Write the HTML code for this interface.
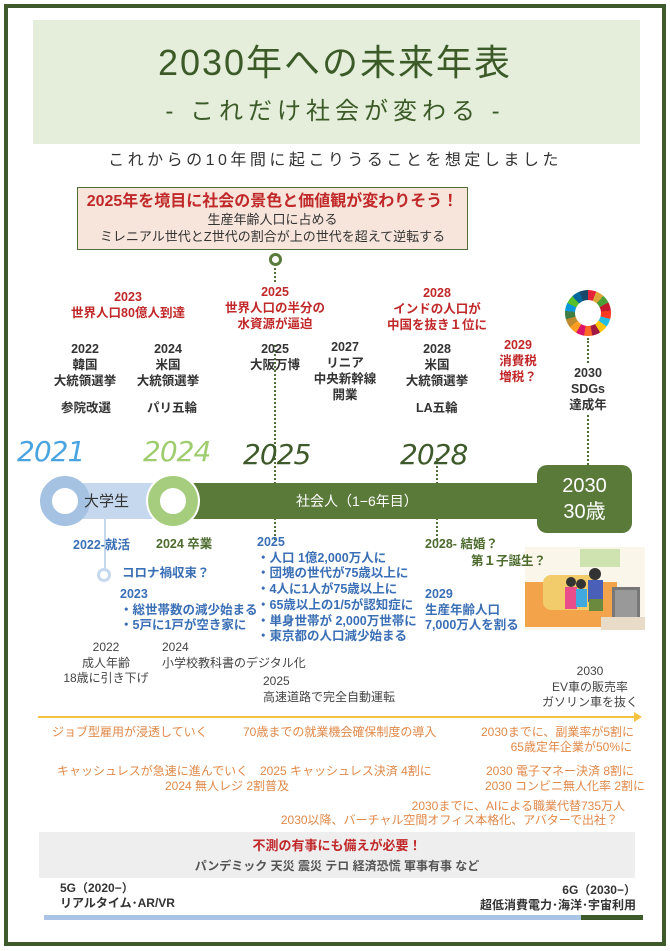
<!DOCTYPE html>
<html><head><meta charset="utf-8"><style>
*{margin:0;padding:0;box-sizing:border-box}
body{width:670px;height:951px;background:#fff;position:relative;overflow:hidden;font-family:"Liberation Sans","Noto Sans CJK JP",sans-serif}
.a{position:absolute;white-space:nowrap;line-height:1;z-index:2}
.c{position:absolute;white-space:nowrap;text-align:center;width:200px;line-height:16px}
.r{color:#c0282a;font-weight:bold;font-size:12.5px}
.k{color:#333;font-weight:bold;font-size:12.5px}
.b{color:#3a6fb5;font-weight:bold;font-size:12.5px;line-height:15.7px}
.g{color:#444;font-size:12px;line-height:15.5px}
.o{color:#e0894a;font-size:12px}
.y{font-style:italic;font-size:28px;font-family:"DejaVu Sans","Liberation Sans",sans-serif;letter-spacing:-1px}
.dot{position:absolute;border-left:2.5px dotted #4f6d35;width:0}
</style></head><body>
<div style="position:absolute;left:4px;top:4px;width:662px;height:942px;border:4px solid #3f5a2a"></div>
<div style="position:absolute;left:33px;top:20px;width:607px;height:124px;background:#e4eedb"></div>
<div class="a" style="left:0;width:670px;text-align:center;top:45px;font-size:36px;color:#3c5a28;letter-spacing:2px">2030年への未来年表</div>
<div class="a" style="left:0;width:670px;text-align:center;top:100px;font-size:24px;color:#3c5a28;letter-spacing:5px">- これだけ社会が変わる -</div>
<div class="a" style="left:0;width:670px;text-align:center;top:153px;font-size:16px;color:#333;letter-spacing:3.5px">これからの10年間に起こりうることを想定しました</div>
<div style="position:absolute;left:77px;top:187px;width:391px;height:63px;background:#f7e5db;border:1.5px solid #4f6d35"></div>
<div class="a" style="left:77px;width:391px;text-align:center;top:194px;font-size:16px;font-weight:bold;color:#c0282a">2025年を境目に社会の景色と価値観が変わりそう！</div>
<div class="a" style="left:77px;width:391px;text-align:center;top:213px;font-size:13px;color:#333">生産年齢人口に占める</div>
<div class="a" style="left:77px;width:391px;text-align:center;top:230px;font-size:13px;color:#333">ミレニアル世代とZ世代の割合が上の世代を超えて逆転する</div>
<div style="position:absolute;left:269px;top:253px;width:13px;height:13px;border:3px solid #5a7a3a;border-radius:50%;background:#fff"></div>
<div class="dot" style="left:274px;top:268px;height:14px"></div>
<div class="dot" style="left:274px;top:345px;height:195px"></div>
<div class="dot" style="left:436px;top:458px;height:82px"></div>
<div class="dot" style="left:587px;top:338px;height:25px"></div>
<div class="dot" style="left:587px;top:415px;height:50px"></div>

<div class="c r" style="left:28px;top:289px">2023<br>世界人口80億人到達</div>
<div class="c r" style="left:175px;top:284px">2025<br>世界人口の半分の<br>水資源が逼迫</div>
<div class="c r" style="left:337px;top:285px">2028<br>インドの人口が<br>中国を抜き１位に</div>
<div class="c r" style="left:418px;top:337px">2029<br>消費税<br>増税？</div>
<div class="c k" style="left:-15px;top:341px">2022<br>韓国<br>大統領選挙</div>
<div class="a k" style="left:61px;top:402px">参院改選</div>
<div class="c k" style="left:68px;top:341px">2024<br>米国<br>大統領選挙</div>
<div class="a k" style="left:147px;top:402px">パリ五輪</div>
<div class="c k" style="left:175px;top:341px">2025<br>大阪万博</div>
<div class="c k" style="left:245px;top:339px">2027<br>リニア<br>中央新幹線<br>開業</div>
<div class="c k" style="left:337px;top:341px">2028<br>米国<br>大統領選挙</div>
<div class="a k" style="left:416px;top:402px">LA五輪</div>
<div class="c k" style="left:488px;top:365px">2030<br>SDGs<br>達成年</div>
<div style="position:absolute;left:565px;top:290px;width:46px;height:46px;border-radius:50%;background:conic-gradient(#e5243b 0 21deg,#dda63a 21deg 42deg,#4c9f38 42deg 63deg,#c5192d 63deg 84deg,#ff3a21 84deg 105deg,#26bde2 105deg 126deg,#fcc30b 126deg 148deg,#a21942 148deg 169deg,#fd6925 169deg 190deg,#dd1367 190deg 211deg,#fd9d24 211deg 232deg,#bf8b2e 232deg 254deg,#3f7e44 254deg 275deg,#0a97d9 275deg 296deg,#56c02b 296deg 317deg,#00689d 317deg 338deg,#19486a 338deg 360deg)"></div>
<div style="position:absolute;left:575px;top:300px;width:26px;height:26px;border-radius:50%;background:#fff"></div>

<div class="a y" style="left:17px;top:438px;color:#4aa4e0">2021</div>
<div class="a y" style="left:143px;top:438px;color:#9fcc6e">2024</div>
<div class="a y" style="left:243px;top:441px;color:#3f5a2a">2025</div>
<div class="a y" style="left:400px;top:441px;color:#3f5a2a">2028</div>

<div style="position:absolute;left:60px;top:483px;width:110px;height:36px;background:#c5d8ee"></div>
<div style="position:absolute;left:190px;top:483px;width:347px;height:36px;background:#5a7a3a"></div>
<div style="position:absolute;left:104px;top:519px;width:2px;height:50px;background:#c5d8ee"></div>
<div style="position:absolute;left:97px;top:568px;width:14px;height:14px;border:3px solid #c5d8ee;border-radius:50%;background:#fff"></div>
<div style="position:absolute;left:40px;top:476px;width:50px;height:50px;border:12px solid #a5c2e2;border-radius:50%;background:#fff"></div>
<div style="position:absolute;left:148px;top:476px;width:50px;height:50px;border:12px solid #a6cd7e;border-radius:50%;background:#fff;box-shadow:0 0 0 2px #fff"></div>
<div class="a" style="left:84px;top:494px;font-size:15px;color:#333">大学生</div>
<div class="a" style="left:296px;top:494px;font-size:14px;color:#fff">社会人（1−6年目）</div>
<div style="position:absolute;left:537px;top:465px;width:95px;height:68px;background:#5a7a3a;border-radius:10px"></div>
<div class="a" style="left:537px;width:95px;text-align:center;top:473px;font-size:20px;color:#fff;line-height:26px">2030<br>30歳</div>

<svg style="position:absolute;left:525px;top:547px" width="120" height="83">
<rect x="0" y="0" width="120" height="83" fill="#fbf6ea"/>
<rect x="0" y="35" width="92" height="45" fill="#f3a34a"/>
<rect x="18" y="28" width="55" height="35" rx="8" fill="#f2cc6a"/>
<circle cx="46" cy="35" r="5" fill="#333"/><rect x="40" y="40" width="12" height="22" fill="#e94e8a"/>
<circle cx="56" cy="37" r="5" fill="#333"/><rect x="51" y="42" width="11" height="18" fill="#3fa9e0"/>
<circle cx="70" cy="27" r="6" fill="#333"/><rect x="63" y="33" width="15" height="22" fill="#4a5fb8"/>
<rect x="64" y="52" width="14" height="12" fill="#6c8a3e"/>
<rect x="87" y="40" width="28" height="35" fill="#777"/><rect x="90" y="43" width="22" height="29" fill="#999"/>
<rect x="76" y="70" width="44" height="13" fill="#e8dcc8"/>
<rect x="55" y="2" width="40" height="18" fill="#cfe3b0"/>
</svg>

<div class="a b" style="left:73px;top:538px">2022-就活</div>
<div class="a" style="left:156px;top:538px;font-size:12.5px;font-weight:bold;color:#4d6b2e">2024 卒業</div>
<div class="a b" style="left:122px;top:566px">コロナ禍収束？</div>
<div class="a b" style="left:120px;top:587px">2023<br>・総世帯数の減少始まる<br>・5戸に1戸が空き家に</div>
<div class="a b" style="left:257px;top:535px">2025<br>・人口 1億2,000万人に<br>・団塊の世代が75歳以上に<br>・4人に1人が75歳以上に<br>・65歳以上の1/5が認知症に<br>・単身世帯が 2,000万世帯に<br>・東京都の人口減少始まる</div>
<div class="a" style="left:425px;top:538px;font-size:12.5px;font-weight:bold;color:#4d6b2e">2028- 結婚？</div>
<div class="a" style="left:471px;top:555px;font-size:12.5px;font-weight:bold;color:#4d6b2e">第１子誕生？</div>
<div class="a b" style="left:425px;top:587px">2029<br>生産年齢人口<br>7,000万人を割る</div>

<div class="c g" style="left:6px;top:640px">2022<br>成人年齢<br>18歳に引き下げ</div>
<div class="a g" style="left:162px;top:640px">2024<br>小学校教科書のデジタル化</div>
<div class="a g" style="left:263px;top:674px">2025<br>高速道路で完全自動運転</div>
<div class="c g" style="left:490px;top:664px">2030<br>EV車の販売率<br>ガソリン車を抜く</div>

<div style="position:absolute;left:38px;top:716px;width:598px;height:2px;background:#f5c242"></div>
<div style="position:absolute;left:634px;top:712px;width:0;height:0;border-left:8px solid #f5c242;border-top:5px solid transparent;border-bottom:5px solid transparent"></div>

<div class="a o" style="left:52px;top:726px">ジョブ型雇用が浸透していく</div>
<div class="a o" style="left:243px;top:726px">70歳までの就業機会確保制度の導入</div>
<div class="a o" style="left:481px;top:726px">2030までに、副業率が5割に</div>
<div class="a o" style="right:38px;top:741px">65歳定年企業が50%に</div>
<div class="a o" style="left:57px;top:765px">キャッシュレスが急速に進んでいく</div>
<div class="a o" style="left:260px;top:765px">2025 キャッシュレス決済 4割に</div>
<div class="a o" style="left:165px;top:780px">2024 無人レジ 2割普及</div>
<div class="a o" style="left:486px;top:765px">2030 電子マネー決済 8割に</div>
<div class="a o" style="right:25px;top:780px">2030 コンビニ無人化率 2割に</div>
<div class="a o" style="right:45px;top:800px">2030までに、AIによる職業代替735万人</div>
<div class="a o" style="right:52px;top:814px">2030以降、バーチャル空間オフィス本格化、アバターで出社？</div>

<div style="position:absolute;left:39px;top:832px;width:596px;height:46px;background:#eeeeee"></div>
<div class="a" style="left:39px;width:596px;text-align:center;top:839px;font-size:13px;font-weight:bold;color:#c0282a">不測の有事にも備えが必要！</div>
<div class="a" style="left:39px;width:596px;text-align:center;top:860px;font-size:12px;font-weight:bold;color:#555">パンデミック 天災 震災 テロ 経済恐慌 軍事有事 など</div>
<div class="a" style="left:60px;top:881px;font-size:12px;font-weight:bold;color:#333;line-height:15px">5G（2020−）<br>リアルタイム･AR/VR</div>
<div class="a" style="right:34px;top:883px;font-size:12px;font-weight:bold;color:#333;line-height:15px;text-align:right">6G（2030−）<br>超低消費電力･海洋･宇宙利用</div>
<div style="position:absolute;left:44px;top:915px;width:537px;height:5px;background:#a9c4e4"></div>
<div style="position:absolute;left:581px;top:915px;width:62px;height:5px;background:#3f5a2a"></div>
</body></html>
